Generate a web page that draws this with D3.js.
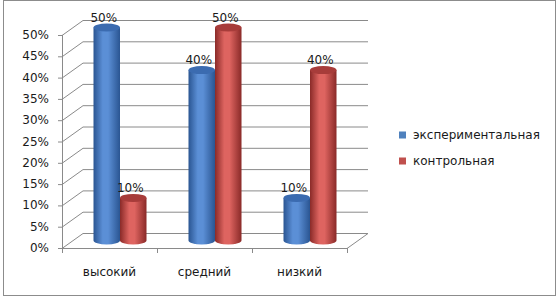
<!DOCTYPE html>
<html>
<head>
<meta charset="utf-8">
<script src="https://cdn.jsdelivr.net/npm/d3@7"></script>
<style>
  body { margin: 0; background: #fff; }
  svg { display: block; font-family: "DejaVu Sans", Verdana, sans-serif; }
</style>
</head>
<body>
<svg width="559" height="297"></svg>
<script>
var categories = ["высокий", "средний", "низкий"];
var seriesNames = ["экспериментальная", "контрольная"];
var experimental = [0.5, 0.4, 0.1];
var control = [0.1, 0.5, 0.4];
var yTicks = [0, 0.05, 0.1, 0.15, 0.2, 0.25, 0.3, 0.35, 0.4, 0.45, 0.5];

var svg = d3.select("svg");
const width = +svg.attr("width");
const height = +svg.attr("height");

// 3d depth offsets (back wall and middle of the floor where bars stand)
const depthX = 21, depthY = -15;
const midX = depthX / 2, midY = depthY / 2;

var x = d3.scaleBand().domain(categories).range([62, 347]);
var y = d3.scaleLinear().domain([0, 0.5]).range([248, 35]);
var xInner = d3.scaleBand().domain(seriesNames).range([0, 53]);

var colors = {
  "экспериментальная": { dark: "#2a5592", mid: "#5b8fd6", top: "#3b6bb0", legend: "#4f81bd" },
  "контрольная": { dark: "#8a2a28", mid: "#de6460", top: "#a73c3a", legend: "#c0504d" }
};

// outer frame
svg.append("rect")
  .attr("x", 3.5).attr("y", 0.5)
  .attr("width", 552).attr("height", 295)
  .attr("fill", "none").attr("stroke", "#8c8c8c");

var grid = svg.append("g").attr("stroke", "#8a8a8a").attr("fill", "none");

// back wall gridlines + side wall diagonals
yTicks.forEach(t => {
  grid.append("line")
    .attr("x1", 62 + depthX).attr("x2", 347 + depthX)
    .attr("y1", y(t) + depthY + 0.5).attr("y2", y(t) + depthY + 0.5);
  grid.append("line")
    .attr("x1", 62).attr("y1", y(t) + 0.5)
    .attr("x2", 62 + depthX).attr("y2", y(t) + depthY + 0.5);
});

// floor right edge
grid.append("line")
  .attr("x1", 347).attr("y1", y(0) + 0.5)
  .attr("x2", 347 + depthX).attr("y2", y(0) + depthY + 0.5);

// front axes
grid.append("line")
  .attr("x1", 62.5).attr("x2", 62.5)
  .attr("y1", y(0.5)).attr("y2", y(0) + 0.5);
grid.append("line")
  .attr("x1", 62).attr("x2", 347)
  .attr("y1", y(0) + 0.5).attr("y2", y(0) + 0.5);

// y ticks and labels
yTicks.forEach(t => {
  grid.append("line")
    .attr("x1", 58).attr("x2", 62)
    .attr("y1", y(t) + 0.5).attr("y2", y(t) + 0.5);
  svg.append("text")
    .attr("x", 49).attr("y", y(t) + 4)
    .attr("text-anchor", "end")
    .attr("font-size", 12).attr("fill", "#1a1a1a")
    .text(d3.format(".0%")(t));
});

// category ticks and labels
var catEdges = categories.map(c => x(c)).concat([x.range()[1]]);
catEdges.forEach(v => {
  grid.append("line")
    .attr("x1", v + 0.5).attr("x2", v + 0.5)
    .attr("y1", y(0)).attr("y2", y(0) + 5);
});
categories.forEach(c => {
  svg.append("text")
    .attr("x", x(c) + x.bandwidth() / 2).attr("y", 276)
    .attr("text-anchor", "middle")
    .attr("font-size", 12).attr("fill", "#1a1a1a")
    .text(c);
});

// gradients for cylinders
var defs = svg.append("defs");
seriesNames.forEach((s, i) => {
  var g = defs.append("linearGradient").attr("id", "grad" + i)
    .attr("x1", 0).attr("x2", 1).attr("y1", 0).attr("y2", 0);
  g.append("stop").attr("offset", "0%").attr("stop-color", colors[s].dark);
  g.append("stop").attr("offset", "35%").attr("stop-color", colors[s].mid);
  g.append("stop").attr("offset", "55%").attr("stop-color", colors[s].mid);
  g.append("stop").attr("offset", "100%").attr("stop-color", colors[s].dark);
});

var groupOffset = (x.bandwidth() - 53) / 2;
var ry = 4;
var seriesData = [experimental, control];

var bars = svg.append("g");
categories.forEach((c, ci) => {
  seriesNames.forEach((s, si) => {
    var v = seriesData[si][ci];
    var x0 = x(c) + groupOffset + xInner(s) + midX;
    var w = xInner.bandwidth();
    var rx = w / 2;
    var cx = x0 + rx;
    var yTop = y(v) + midY;
    var yBot = y(0) + midY;
    bars.append("path")
      .attr("d", "M" + x0 + "," + yTop + "L" + x0 + "," + yBot +
        "A" + rx + "," + ry + " 0 0 0 " + (x0 + w) + "," + yBot +
        "L" + (x0 + w) + "," + yTop + "Z")
      .attr("fill", "url(#grad" + si + ")");
    bars.append("ellipse")
      .attr("cx", cx).attr("cy", yTop)
      .attr("rx", rx).attr("ry", ry)
      .attr("fill", colors[s].top);
    svg.append("text")
      .attr("x", cx - 3).attr("y", yTop - 6)
      .attr("text-anchor", "middle")
      .attr("font-size", 12).attr("fill", "#1a1a1a")
      .text(d3.format(".0%")(v));
  });
});

// legend
var legend = svg.append("g");
seriesNames.forEach((s, i) => {
  var ly = 135 + i * 26;
  legend.append("rect")
    .attr("x", 399).attr("y", ly - 3.5)
    .attr("width", 7).attr("height", 7)
    .attr("fill", colors[s].legend);
  legend.append("text")
    .attr("x", 413).attr("y", ly + 4)
    .attr("font-size", 12).attr("fill", "#1a1a1a")
    .text(s);
});
</script>
</body>
</html>
